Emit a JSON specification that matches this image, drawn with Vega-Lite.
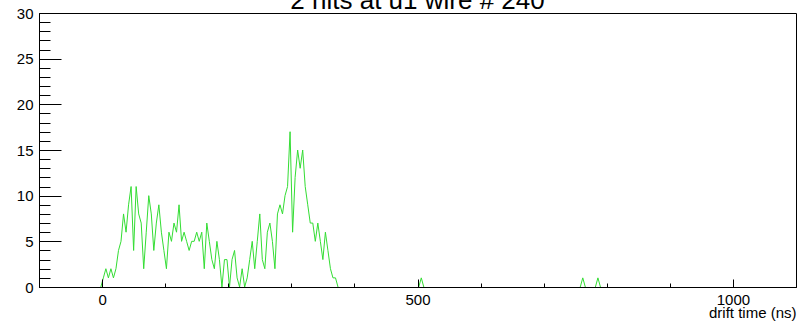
{
  "$schema": "https://vega.github.io/schema/vega-lite/v6.json",
  "autosize": "none",
  "width": 757,
  "height": 274,
  "padding": {"left": 39, "top": 13, "right": 13, "bottom": 38},
  "background": "white",
  "title": {
    "text": "2 hits at u1 wire # 240",
    "font": "Liberation Sans",
    "fontSize": 26,
    "fontWeight": "normal",
    "color": "black",
    "anchor": "middle",
    "frame": "group",
    "baseline": "alphabetic",
    "offset": 3,
    "dy": 32
  },
  "config": {"view": {"stroke": "black", "strokeWidth": 1}},
  "data": {
    "values": [
      {"t": -2, "n": 0, "seg": "a"},
      {"t": 2, "n": 1, "seg": "a"},
      {"t": 6, "n": 2, "seg": "a"},
      {"t": 10, "n": 1, "seg": "a"},
      {"t": 14, "n": 2, "seg": "a"},
      {"t": 18, "n": 1, "seg": "a"},
      {"t": 22, "n": 2, "seg": "a"},
      {"t": 26, "n": 4, "seg": "a"},
      {"t": 30, "n": 5, "seg": "a"},
      {"t": 34, "n": 8, "seg": "a"},
      {"t": 38, "n": 6, "seg": "a"},
      {"t": 42, "n": 9, "seg": "a"},
      {"t": 46, "n": 11, "seg": "a"},
      {"t": 50, "n": 4, "seg": "a"},
      {"t": 54, "n": 11, "seg": "a"},
      {"t": 58, "n": 8, "seg": "a"},
      {"t": 62, "n": 7, "seg": "a"},
      {"t": 66, "n": 2, "seg": "a"},
      {"t": 70, "n": 6, "seg": "a"},
      {"t": 74, "n": 10, "seg": "a"},
      {"t": 78, "n": 8, "seg": "a"},
      {"t": 82, "n": 4, "seg": "a"},
      {"t": 86, "n": 7, "seg": "a"},
      {"t": 90, "n": 9, "seg": "a"},
      {"t": 94, "n": 6, "seg": "a"},
      {"t": 98, "n": 4, "seg": "a"},
      {"t": 102, "n": 2, "seg": "a"},
      {"t": 106, "n": 6, "seg": "a"},
      {"t": 110, "n": 5, "seg": "a"},
      {"t": 114, "n": 7, "seg": "a"},
      {"t": 118, "n": 6, "seg": "a"},
      {"t": 122, "n": 9, "seg": "a"},
      {"t": 126, "n": 5, "seg": "a"},
      {"t": 130, "n": 6, "seg": "a"},
      {"t": 134, "n": 5, "seg": "a"},
      {"t": 138, "n": 4, "seg": "a"},
      {"t": 142, "n": 5, "seg": "a"},
      {"t": 146, "n": 5, "seg": "a"},
      {"t": 150, "n": 6, "seg": "a"},
      {"t": 154, "n": 5, "seg": "a"},
      {"t": 158, "n": 6, "seg": "a"},
      {"t": 162, "n": 2, "seg": "a"},
      {"t": 166, "n": 7, "seg": "a"},
      {"t": 170, "n": 5, "seg": "a"},
      {"t": 174, "n": 3, "seg": "a"},
      {"t": 178, "n": 2, "seg": "a"},
      {"t": 182, "n": 5, "seg": "a"},
      {"t": 186, "n": 3, "seg": "a"},
      {"t": 190, "n": 0, "seg": "a"},
      {"t": 194, "n": 3, "seg": "a"},
      {"t": 198, "n": 3, "seg": "a"},
      {"t": 202, "n": 0, "seg": "a"},
      {"t": 206, "n": 3, "seg": "a"},
      {"t": 210, "n": 4, "seg": "a"},
      {"t": 214, "n": 1, "seg": "a"},
      {"t": 218, "n": 0, "seg": "a"},
      {"t": 222, "n": 2, "seg": "a"},
      {"t": 226, "n": 0, "seg": "a"},
      {"t": 230, "n": 1, "seg": "a"},
      {"t": 234, "n": 3, "seg": "a"},
      {"t": 238, "n": 5, "seg": "a"},
      {"t": 242, "n": 2, "seg": "a"},
      {"t": 246, "n": 5, "seg": "a"},
      {"t": 250, "n": 8, "seg": "a"},
      {"t": 254, "n": 3, "seg": "a"},
      {"t": 258, "n": 2, "seg": "a"},
      {"t": 262, "n": 6, "seg": "a"},
      {"t": 266, "n": 7, "seg": "a"},
      {"t": 270, "n": 5, "seg": "a"},
      {"t": 274, "n": 2, "seg": "a"},
      {"t": 278, "n": 8, "seg": "a"},
      {"t": 282, "n": 9, "seg": "a"},
      {"t": 286, "n": 8, "seg": "a"},
      {"t": 290, "n": 10, "seg": "a"},
      {"t": 294, "n": 11, "seg": "a"},
      {"t": 298, "n": 17, "seg": "a"},
      {"t": 302, "n": 6, "seg": "a"},
      {"t": 306, "n": 12, "seg": "a"},
      {"t": 310, "n": 15, "seg": "a"},
      {"t": 314, "n": 13, "seg": "a"},
      {"t": 318, "n": 15, "seg": "a"},
      {"t": 322, "n": 11, "seg": "a"},
      {"t": 326, "n": 9, "seg": "a"},
      {"t": 330, "n": 7, "seg": "a"},
      {"t": 334, "n": 7, "seg": "a"},
      {"t": 338, "n": 5, "seg": "a"},
      {"t": 342, "n": 7, "seg": "a"},
      {"t": 346, "n": 5, "seg": "a"},
      {"t": 350, "n": 3, "seg": "a"},
      {"t": 354, "n": 6, "seg": "a"},
      {"t": 358, "n": 4, "seg": "a"},
      {"t": 362, "n": 2, "seg": "a"},
      {"t": 366, "n": 1, "seg": "a"},
      {"t": 370, "n": 1, "seg": "a"},
      {"t": 374, "n": 0, "seg": "a"},
      {"t": 502, "n": 0, "seg": "b"},
      {"t": 506, "n": 1, "seg": "b"},
      {"t": 510, "n": 0, "seg": "b"},
      {"t": 758, "n": 0, "seg": "c"},
      {"t": 762, "n": 1, "seg": "c"},
      {"t": 766, "n": 0, "seg": "c"},
      {"t": 782, "n": 0, "seg": "d"},
      {"t": 786, "n": 1, "seg": "d"},
      {"t": 790, "n": 0, "seg": "d"}
    ]
  },
  "mark": {"type": "line", "color": "#33dd33", "strokeWidth": 1, "interpolate": "linear"},
  "encoding": {
    "x": {
      "field": "t",
      "type": "quantitative",
      "scale": {"domain": [-100, 1100], "nice": false, "zero": false},
      "axis": {
        "values": [-100, 0, 100, 200, 300, 400, 500, 600, 700, 800, 900, 1000, 1100],
        "format": "d",
        "labelExpr": "datum.value % 500 === 0 ? datum.label : ''",
        "tickSize": {"condition": {"test": "datum.value % 500 === 0", "value": -8}, "value": -4},
        "tickColor": "black",
        "tickWidth": 1,
        "domainColor": "black",
        "domainWidth": 1,
        "grid": false,
        "zindex": 1,
        "labelFont": "Liberation Sans",
        "labelFontSize": 15,
        "labelColor": "black",
        "labelPadding": 13,
        "labelFlush": false,
        "labelOverlap": false,
        "title": "drift time (ns)",
        "titleFont": "Liberation Sans",
        "titleFontSize": 15,
        "titleFontWeight": "normal",
        "titleColor": "black",
        "titleAnchor": "end",
        "titleBaseline": "alphabetic",
        "titleY": 30
      }
    },
    "y": {
      "field": "n",
      "type": "quantitative",
      "scale": {"domain": [0, 30], "nice": false},
      "axis": {
        "values": [0, 1, 2, 3, 4, 5, 6, 7, 8, 9, 10, 11, 12, 13, 14, 15, 16, 17, 18, 19, 20, 21, 22, 23, 24, 25, 26, 27, 28, 29, 30],
        "labelExpr": "datum.value % 5 === 0 ? datum.label : ''",
        "tickSize": {"condition": {"test": "datum.value % 5 === 0", "value": -22}, "value": -11},
        "tickColor": "black",
        "tickWidth": 1,
        "domainColor": "black",
        "domainWidth": 1,
        "grid": false,
        "zindex": 1,
        "labelFont": "Liberation Sans",
        "labelFontSize": 15,
        "labelColor": "black",
        "labelPadding": 28,
        "labelFlush": false,
        "labelOverlap": false,
        "title": null
      }
    },
    "detail": {"field": "seg", "type": "nominal"}
  }
}
